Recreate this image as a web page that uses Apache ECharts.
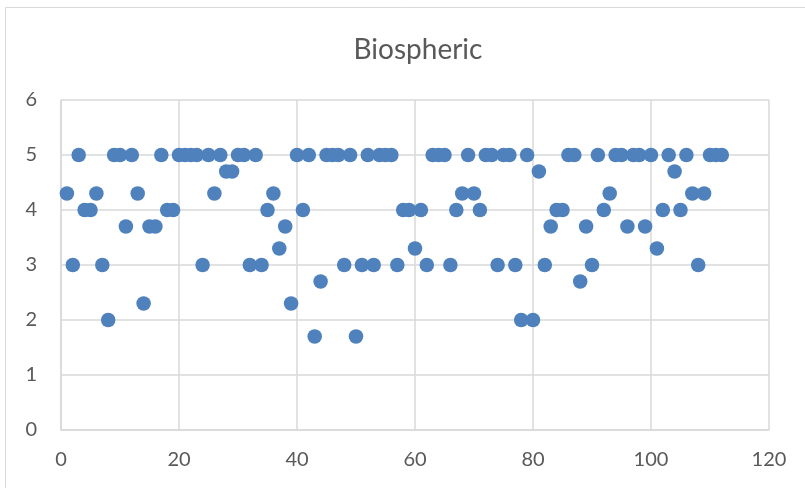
<!DOCTYPE html>
<html>
<head>
<meta charset="utf-8">
<script src="https://cdn.jsdelivr.net/npm/echarts@6/dist/echarts.min.js"></script>
<style>
html,body{margin:0;padding:0;background:#fff;}
#chart{width:805px;height:488px;}
</style>
</head>
<body>
<div id="chart"></div>
<script>
var title = 'Biospheric';
var xValues = [];
for (var i = 1; i <= 112; i++) xValues.push(i);
var yValues = [
  4.3, 3, 5, 4, 4, 4.3, 3, 2, 5, 5,
  3.7, 5, 4.3, 2.3, 3.7, 3.7, 5, 4, 4, 5,
  5, 5, 5, 3, 5, 4.3, 5, 4.7, 4.7, 5,
  5, 3, 5, 3, 4, 4.3, 3.3, 3.7, 2.3, 5,
  4, 5, 1.7, 2.7, 5, 5, 5, 3, 5, 1.7,
  3, 5, 3, 5, 5, 5, 3, 4, 4, 3.3,
  4, 3, 5, 5, 5, 3, 4, 4.3, 5, 4.3,
  4, 5, 5, 3, 5, 5, 3, 2, 5, 2,
  4.7, 3, 3.7, 4, 4, 5, 5, 2.7, 3.7, 3,
  5, 4, 4.3, 5, 5, 3.7, 5, 5, 3.7, 5,
  3.3, 4, 5, 4.7, 4, 5, 4.3, 3, 4.3, 5,
  5, 5
];
var xTicks = [0, 20, 40, 60, 80, 100, 120];
var yTicks = [0, 1, 2, 3, 4, 5, 6];

var data = xValues.map(function (x, i) { return [x, yValues[i]]; });
var font = 'Lato, "Open Sans", sans-serif';
var chart = echarts.init(document.getElementById('chart'), null, {renderer: 'canvas'});
chart.setOption({
  animation: false,
  backgroundColor: '#fff',
  title: {
    text: title,
    left: 413, top: 31, textAlign: 'center',
    textStyle: {fontFamily: font, fontSize: 28, fontWeight: 'normal', color: '#595959'}
  },
  graphic: [{
    type: 'rect', silent: true,
    shape: {x: 5.5, y: 7.5, width: 820, height: 500},
    style: {fill: 'none', stroke: '#d9d9d9', lineWidth: 1}
  }],
  grid: {left: 61, right: 36, top: 100, bottom: 58},
  xAxis: {
    type: 'value', min: xTicks[0], max: xTicks[xTicks.length - 1], interval: 20,
    axisLine: {show: true, lineStyle: {color: '#d9d9d9', width: 1.5}},
    axisTick: {show: false},
    splitLine: {show: true, lineStyle: {color: '#d9d9d9', width: 1.5}},
    axisLabel: {color: '#595959', fontFamily: font, fontSize: 20, margin: 20}
  },
  yAxis: {
    type: 'value', min: yTicks[0], max: yTicks[yTicks.length - 1], interval: 1,
    axisLine: {show: true, lineStyle: {color: '#d9d9d9', width: 1.5}},
    axisTick: {show: false},
    splitLine: {show: true, lineStyle: {color: '#d9d9d9', width: 1.5}},
    axisLabel: {color: '#595959', fontFamily: font, fontSize: 20, margin: 24}
  },
  series: [{
    type: 'scatter',
    data: data,
    symbol: 'circle',
    symbolSize: 14.5,
    itemStyle: {color: '#4F81BD', opacity: 1}
  }]
});
</script>
</body>
</html>
